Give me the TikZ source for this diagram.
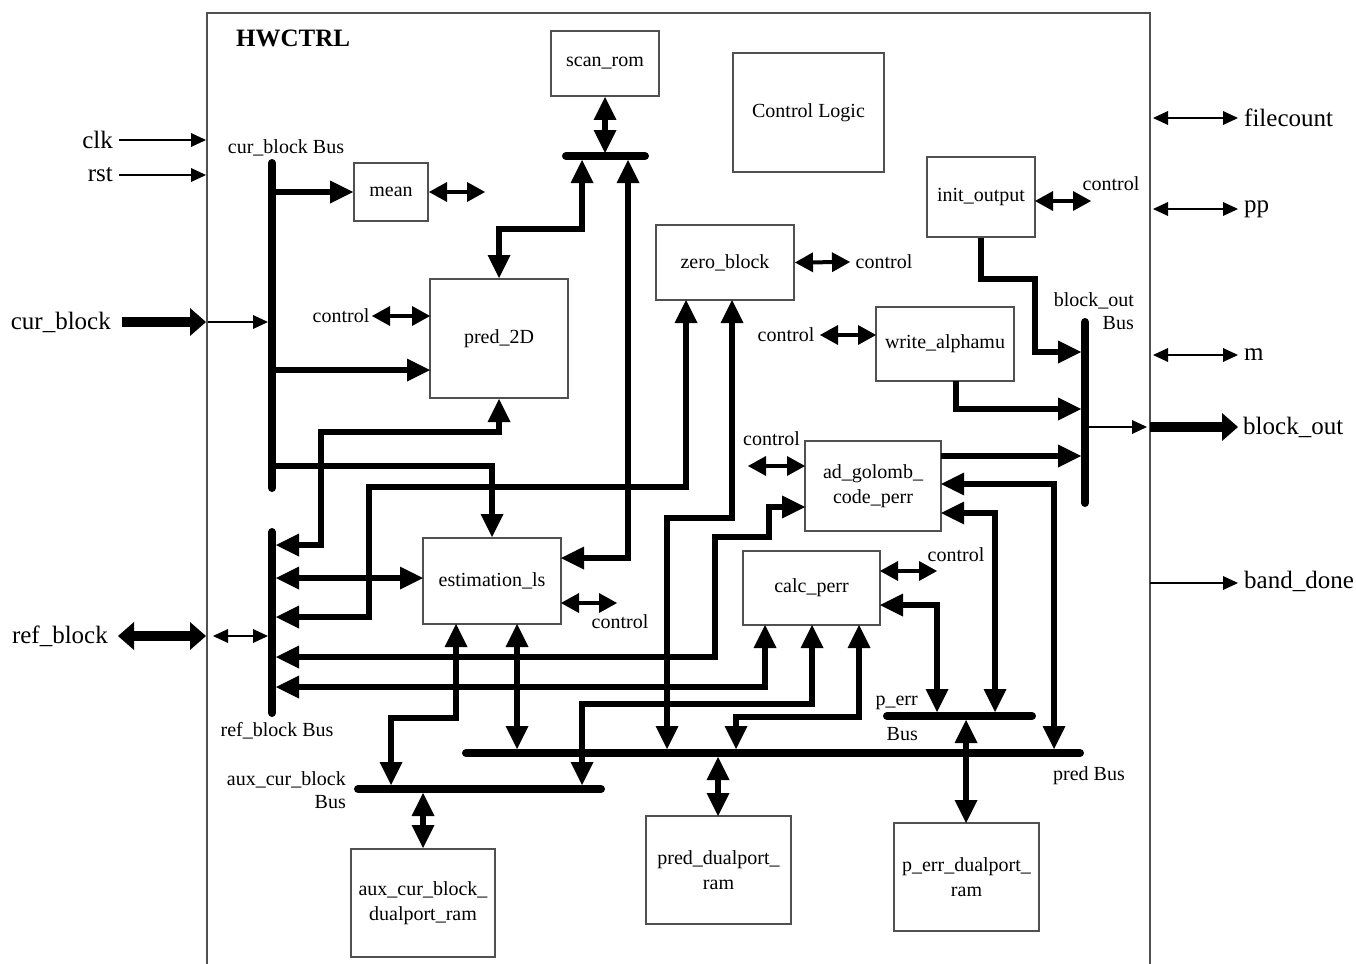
\documentclass[tikz,border=0pt]{standalone}
\usepackage{fontspec}
\setmainfont{Liberation Serif}
\usetikzlibrary{arrows.meta}
\definecolor{boxgray}{HTML}{505050}
\newcommand{\fsin}{\fontsize{20}{25}\selectfont}
\newcommand{\fsout}{\fontsize{25}{30}\selectfont}
\begin{document}
\begin{tikzpicture}[x=1pt,y=-1pt,
  box/.style={draw=boxgray,line width=2pt,inner sep=0pt,align=center,font=\fsin},
  lbl/.style={inner sep=0pt,font=\fsin,align=center},
  olbl/.style={inner sep=0pt,font=\fsout},
  bus/.style={line width=8pt,line cap=round},
  arr/.style={line width=5.5pt,-{Triangle[length=23pt,width=23pt,line width=0pt]}},
  darr/.style={line width=5.5pt,{Triangle[length=23pt,width=23pt,line width=0pt]}-{Triangle[length=23pt,width=23pt,line width=0pt]}},
  ctl/.style={line width=4pt,{Triangle[length=18pt,width=20pt,line width=0pt]}-{Triangle[length=18pt,width=20pt,line width=0pt]}},
  thinarr/.style={line width=1.8pt,-{Triangle[length=15pt,width=14pt,line width=0pt]}},
  thindarr/.style={line width=1.8pt,{Triangle[length=15pt,width=14pt,line width=0pt]}-{Triangle[length=15pt,width=14pt,line width=0pt]}},
  fatarr/.style={line width=10pt,-{Triangle[length=16pt,width=28pt,line width=0pt]}},
  fatdarr/.style={line width=10pt,{Triangle[length=16pt,width=28pt,line width=0pt]}-{Triangle[length=16pt,width=28pt,line width=0pt]}}
]
\useasboundingbox (0,0) rectangle (1356,963);
\fill[white] (0,0) rectangle (1356,963);

% frame
\draw[boxgray,line width=2pt] (207,975) -- (207,13) -- (1150,13) -- (1150,975);
\node[inner sep=0pt,font=\fsout\bfseries,anchor=west] (title) at (236,38) {HWCTRL};

% boxes
\node[box,minimum width=108pt,minimum height=65pt] (scanrom) at (605,63.5) {scan\_rom};
\node[box,minimum width=151pt,minimum height=119pt] (ctrllogic) at (808.5,112.5) {Control Logic};
\node[box,minimum width=74pt,minimum height=58pt] (mean) at (391,192) {mean};
\node[box,minimum width=138pt,minimum height=119pt] (pred2d) at (499,338.5) {pred\_2D};
\node[box,minimum width=138pt,minimum height=75pt] (zb) at (725,262.5) {zero\_block};
\node[box,minimum width=108pt,minimum height=80pt] (io) at (981,197) {init\_output};
\node[box,minimum width=138pt,minimum height=74pt] (wa) at (945,344) {write\_alphamu};
\node[box,minimum width=136pt,minimum height=90pt] (ag) at (873,486) {ad\_golomb\_\\code\_perr};
\node[box,minimum width=137pt,minimum height=74pt] (cp) at (811.5,588) {calc\_perr};
\node[box,minimum width=138pt,minimum height=86pt] (est) at (492,581) {estimation\_ls};
\node[box,minimum width=144pt,minimum height=108pt] (aux) at (423,903) {aux\_cur\_block\_\\dualport\_ram};
\node[box,minimum width=145pt,minimum height=108pt] (pdr) at (718.5,870) {pred\_dualport\_\\ram};
\node[box,minimum width=145pt,minimum height=108pt] (pedr) at (966.5,877) {p\_err\_dualport\_\\ram};

% buses
\coordinate (cbA) at (272,163); \coordinate (cbB) at (272,488);
\coordinate (rbA) at (272,532); \coordinate (rbB) at (272,713);
\coordinate (sbA) at (566,156); \coordinate (sbB) at (645,156);
\coordinate (obA) at (1085,322); \coordinate (obB) at (1085,503);
\coordinate (ebA) at (887,716); \coordinate (ebB) at (1032,716);
\coordinate (pbA) at (466,753); \coordinate (pbB) at (1080,753);
\coordinate (abA) at (358,789); \coordinate (abB) at (601,789);
\draw[bus] (cbA) -- (cbB);
\draw[bus] (rbA) -- (rbB);
\draw[bus] (sbA) -- (sbB);
\draw[bus] (obA) -- (obB);
\draw[bus] (ebA) -- (ebB);
\draw[bus] (pbA) -- (pbB);
\draw[bus] (abA) -- (abB);

% bus labels
\node[lbl] (cblbl) at (286,148) {cur\_block Bus};
\node[lbl] (rblbl) at (277,731) {ref\_block Bus};
\node[lbl,align=right,anchor=east,font=\fontsize{20}{23}\selectfont] (ablbl) at (346,790) {aux\_cur\_block\\Bus};
\node[lbl,anchor=east] (eblbl1) at (918,703) {p\_err};
\node[lbl,anchor=east] (eblbl2) at (918,734) {Bus};
\node[lbl] (pblbl) at (1089,776) {pred Bus};
\node[lbl,align=right,anchor=east,font=\fontsize{20}{23}\selectfont] (oblbl) at (1134,311) {block\_out\\Bus};

% control labels
\node[lbl] (c1) at (341,316) {control};
\node[lbl] (c2) at (884,262) {control};
\node[lbl] (c3) at (786,335) {control};
\node[lbl] (c4) at (771.5,439) {control};
\node[lbl] (c5) at (620,622) {control};
\node[lbl] (c6) at (956,555) {control};
\node[lbl] (c7) at (1111,184) {control};

% control arrows
\draw[ctl] (mean.east) -- ++(56,0);
\draw[ctl] (430,316) -- (372,316);
\draw[ctl] (zb.east) -- (850,262);
\draw[ctl] (876,335) -- (820,335);
\draw[ctl] (805,466) -- (748,466);
\draw[ctl] (561,603) -- (617,603);
\draw[ctl] (880,571) -- (937,571);
\draw[ctl] (1035,201) -- (1091,201);

% connectors
\draw[arr] (cbA |- mean.west) -- (mean.west);
\draw[darr] (scanrom.south) -- ++(0,56);
\draw[darr] (pred2d.north) |- (582,229) -- (582,160);
\draw[darr] (628,160) |- (561,558);
\draw[arr] (272,370) -- (430,370);
\draw[darr] (pred2d.south) |- (321,432) |- (276,545);
\draw[arr] (272,466) -| (est.north);
\draw[darr] (686,300) |- (369,487) |- (276,617);
\draw[darr] (276,578) -- (423,578);
\draw[darr] (732,300) |- (667,518) -- (667,749);
\draw[darr] (805,507) -| (769,537) -| (715,657) -- (276,657);
\draw[darr] (765,625) |- (276,687);
\draw[darr] (456,624) |- (391,718) -- (391,785);
\draw[darr] (517,624) -- (517,749);
\draw[darr] (812,625) |- (582,704) -- (582,785);
\draw[darr] (859,625) |- (736,717) -- (736,749);
\draw[darr] (880,605) -| (937,712);
\draw[darr] (941,513) -| (995,712);
\draw[darr] (941,484) -| (1054,749);
\draw[arr] (941,456) -- (1081,456);
\draw[arr] (io.south) |- (1035,279) |- (1081,352);
\draw[arr] (956,381) |- (1081,409);
\draw[darr] (aux.north |- 0,793) -- (aux.north);
\draw[darr] (718,757) -- (718,816);
\draw[darr] (966,720) -- (966,823);
\draw[thinarr] (1085,427) -- (1147,427);

% outside signals
\node[olbl,anchor=east] (clk) at (113,140) {clk};
\node[olbl,anchor=east] (rst) at (113,175) {rst};
\node[olbl,anchor=east] (curblock) at (111,322) {cur\_block};
\node[olbl,anchor=east] (refblock) at (108,636) {ref\_block};
\draw[thinarr] (clk.east) ++(6,0) -- (206,140);
\draw[thinarr] (rst.east) ++(6,0) -- (206,175);
\draw[fatarr] (122,322) -- (206,322);
\draw[thinarr] (208,322) -- (268,322);
\draw[fatdarr] (118,636) -- (206,636);
\draw[thindarr] (213,636) -- (268,636);

\node[olbl,anchor=west] (filecount) at (1244,118) {filecount};
\node[olbl,anchor=west] (pp) at (1244,209) {pp};
\node[olbl,anchor=west] (m) at (1244,355) {m};
\node[olbl,anchor=west] (blockout) at (1243,427) {block\_out};
\node[olbl,anchor=west] (banddone) at (1244,581) {band\_done};
\draw[thindarr] (1153,118) -- (1238,118);
\draw[thindarr] (1153,209) -- (1238,209);
\draw[thindarr] (1153,355) -- (1238,355);
\draw[fatarr] (1150,427) -- (1238,427);
\draw[thinarr] (1150,583) -- (1238,583);
\end{tikzpicture}
\end{document}
